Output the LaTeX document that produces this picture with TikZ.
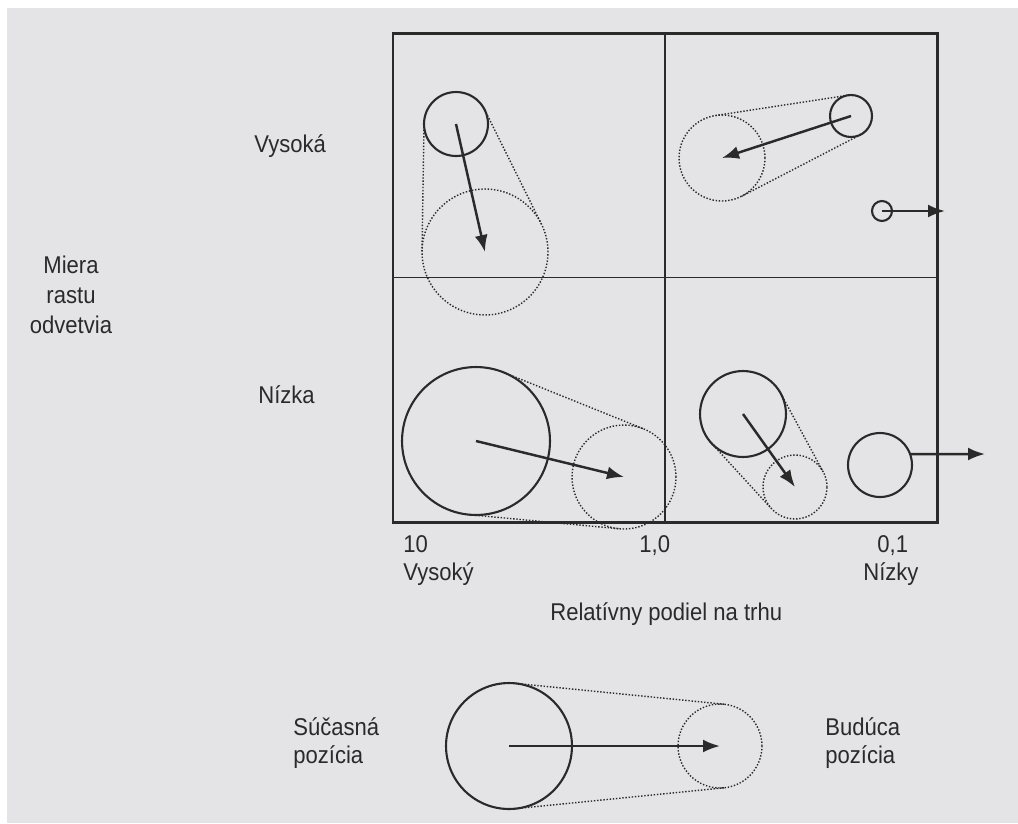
\documentclass[tikz,border=0pt]{standalone}
\usepackage{fontspec}
\setmainfont{Liberation Sans}[FakeStretch=0.91]
\usepackage{tikz}
\usetikzlibrary{arrows.meta,calc}
\definecolor{ink}{HTML}{2A2A2A}
\definecolor{paper}{HTML}{E4E4E6}
\tikzset{
  frame/.style={draw=ink,line width=1.7pt,inner sep=0pt,outer sep=0pt},
  divider/.style={ink,line width=0.8pt},
  bubblenow/.style={circle,draw=ink,line width=1.2pt,inner sep=0pt,
                    outer sep=0pt,minimum size=#1*0.04cm},
  bubblelater/.style={circle,draw=ink,line width=0.8pt,densely dotted,
                      inner sep=0pt,outer sep=0pt,minimum size=#1*0.04cm},
  hull/.style={draw=ink,line width=0.8pt,densely dotted},
  arrowmove/.style={-{Latex[length=3.4mm,width=2.6mm]},ink,line width=1.4pt},
  lbl/.style={inner sep=0pt,text=ink,font=\fontsize{13.8}{16}\selectfont},
}
\newcommand{\hullpair}[2]{%
  \draw[hull] let \p1=($(#2)-(#1)$), \p2=($(#1.east)-(#1)$),
    \p3=($(#2.east)-(#2)$), \n1={atan2(\y1,\x1)},
    \n2={acos((\x2-\x3)/veclen(\x1,\y1))}, \n3={\n1+\n2}, \n4={\n1-\n2}
    in ($(#1)+(\n3:\x2)$) -- ($(#2)+(\n3:\x3)$)
       ($(#1)+(\n4:\x2)$) -- ($(#2)+(\n4:\x3)$);
}

\begin{document}
\begin{tikzpicture}[x=0.02cm,y=-0.02cm]
  \fill[white](0,0)rectangle(1018,823);
  \fill[paper](7,8)rectangle(1018,823);
  \useasboundingbox(0,0)rectangle(1018,823);

  \node[frame,minimum width=544*0.02cm,minimum height=489*0.02cm]
    (grid)at(665,277.5){};
  \draw[divider](grid.north)--(grid.south);
  \draw[divider](grid.west)--(grid.east);

  \node[bubblenow=32](star)at(456,124){};
  \node[bubblelater=63](star2)at(485,252){};
  \node[bubblenow=21](quest)at(851,116){};
  \node[bubblelater=43](quest2)at(722,158){};
  \node[bubblenow=10](tiny)at(882,211){};
  \node[bubblenow=74](cow)at(476,441){};
  \node[bubblelater=52](cow2)at(624,477){};
  \node[bubblenow=43](dog)at(743,414){};
  \node[bubblelater=32](dog2)at(795,487){};
  \node[bubblenow=32](lone)at(880,465){};
  \node[bubblenow=63](legend)at(509,746){};
  \node[bubblelater=42](legend2)at(720,746){};
  \coordinate(tinyend)at(945,211);
  \coordinate(loneend)at(985,454);

  \foreach \a/\b in {star/star2,quest/quest2,cow/cow2,dog/dog2,legend/legend2}{
    \hullpair{\a}{\b}
    \draw[arrowmove](\a.center)--(\b.center);
  }
  \draw[arrowmove](tiny.center)--(tinyend);
  \draw[arrowmove](lone.20)--(loneend);

  \node[lbl,anchor=base west](yhigh)at(254,152){Vysoká};
  \node[lbl,anchor=base west](ylow)at(258,403){Nízka};
  \foreach \y/\t in {273/Miera,303/rastu,333/odvetvia}
    \node[lbl,anchor=base](ytitle\y)at(71,\y){\t};
  \node[lbl,anchor=base west](x10)at(403,552){10};
  \node[lbl,anchor=base west](xhigh)at(403,580){Vysoký};
  \node[lbl,anchor=base west](x1)at(639,552){1,0};
  \node[lbl,anchor=base west](x01)at(877,552){0,1};
  \node[lbl,anchor=base west](xlow)at(863,580){Nízky};
  \node[lbl,anchor=base west](xtitle)at(550,620){Relatívny podiel na trhu};
  \foreach \y/\t in {735/Súčasná,763/pozícia}
    \node[lbl,anchor=base west](now\y)at(293,\y){\t};
  \foreach \y/\t in {735/Budúca,763/pozícia}
    \node[lbl,anchor=base west](future\y)at(825,\y){\t};
\end{tikzpicture}
\end{document}
